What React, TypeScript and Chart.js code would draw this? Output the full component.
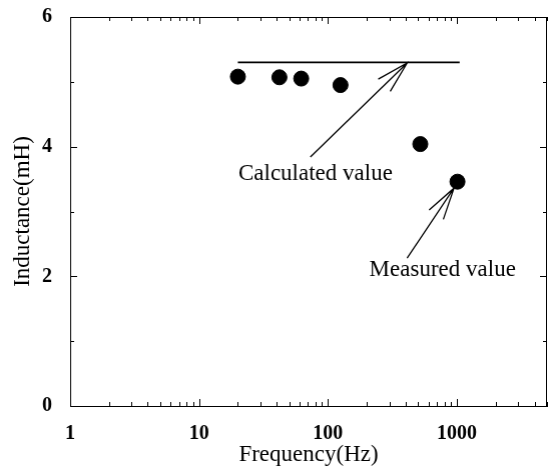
import React, { useEffect, useRef } from "react";
import { Chart, registerables } from "chart.js";

Chart.register(...registerables);

// Measured inductance (mH) vs frequency (Hz)
const measuredFreq = [20, 42, 62, 125, 520, 1010];
const measuredL = [5.08, 5.07, 5.05, 4.95, 4.04, 3.46];

// Calculated value (constant line)
const calcFreq = [20, 1050];
const calcL = [5.3, 5.3];

const xTickLabels = [1, 10, 100, 1000];
const xMin = 1;
const xMax = 5000;
const yMin = 0;
const yMax = 6;
const yStep = 2;

// Annotations: text positions and arrows (tail -> tip) in data units
const annotationTexts = ["Calculated value", "Measured value"];
const annotationX = [80, 774];
const annotationY = [3.58, 2.1];
const arrowTailX = [73, 411];
const arrowTailY = [3.84, 2.28];
const arrowTipX = [411, 949];
const arrowTipY = [5.29, 3.36];

const SERIF = "'Liberation Serif', 'DejaVu Serif', serif";

const decorPlugin = {
  id: "decor",
  afterDraw(chart: any) {
    const ctx = chart.ctx;
    const xs = chart.scales.x;
    const ys = chart.scales.y;
    const { left, right, top, bottom } = chart.chartArea;
    ctx.save();
    ctx.strokeStyle = "#000";
    ctx.lineWidth = 1;
    // frame top/right
    ctx.beginPath();
    ctx.moveTo(left, top + 0.5);
    ctx.lineTo(right, top + 0.5);
    ctx.moveTo(right - 0.5, top);
    ctx.lineTo(right - 0.5, bottom);
    ctx.stroke();
    // x ticks (log) on bottom and top, inward
    ctx.beginPath();
    for (let d = 1; d <= 1000; d *= 10) {
      for (let k = 1; k <= 9; k++) {
        const v = d * k;
        if (v > xMax) break;
        const px = Math.round(xs.getPixelForValue(v)) + 0.5;
        const len = k === 1 ? 7 : 4;
        ctx.moveTo(px, bottom);
        ctx.lineTo(px, bottom - len);
        ctx.moveTo(px, top);
        ctx.lineTo(px, top + len);
      }
    }
    // y ticks on left and right, inward
    for (let v = yMin; v <= yMax; v += 1) {
      const py = Math.round(ys.getPixelForValue(v)) + 0.5;
      const len = v % 2 === 0 ? 7 : 4;
      ctx.moveTo(left, py);
      ctx.lineTo(left + len, py);
      ctx.moveTo(right, py);
      ctx.lineTo(right - len, py);
    }
    ctx.stroke();

    // arrows
    ctx.lineWidth = 1.3;
    for (let i = 0; i < arrowTipX.length; i++) {
      const tx = xs.getPixelForValue(arrowTailX[i]);
      const ty = ys.getPixelForValue(arrowTailY[i]);
      const hx = xs.getPixelForValue(arrowTipX[i]);
      const hy = ys.getPixelForValue(arrowTipY[i]);
      const ang = Math.atan2(ty - hy, tx - hx);
      const L = 33;
      const a = (15 * Math.PI) / 180;
      ctx.beginPath();
      ctx.moveTo(tx, ty);
      ctx.lineTo(hx, hy);
      ctx.moveTo(hx + L * Math.cos(ang + a), hy + L * Math.sin(ang + a));
      ctx.lineTo(hx, hy);
      ctx.lineTo(hx + L * Math.cos(ang - a), hy + L * Math.sin(ang - a));
      ctx.stroke();
    }
    // annotation texts
    ctx.fillStyle = "#000";
    ctx.font = `23px ${SERIF}`;
    ctx.textAlign = "center";
    ctx.textBaseline = "middle";
    for (let i = 0; i < annotationTexts.length; i++) {
      ctx.fillText(
        annotationTexts[i],
        xs.getPixelForValue(annotationX[i]),
        ys.getPixelForValue(annotationY[i])
      );
    }
    ctx.restore();
  },
};

export default function App() {
  const ref = useRef<HTMLCanvasElement>(null);
  useEffect(() => {
    if (!ref.current) return;
    const chart = new Chart(ref.current, {
      type: "scatter",
      data: {
        datasets: [
          {
            label: "Measured value",
            data: measuredFreq.map((f, i) => ({ x: f, y: measuredL[i] })),
            pointRadius: 7.5,
            pointBackgroundColor: "#000",
            pointBorderColor: "#000",
            showLine: false,
          },
          {
            label: "Calculated value",
            data: calcFreq.map((f, i) => ({ x: f, y: calcL[i] })),
            showLine: true,
            borderColor: "#000",
            borderWidth: 1.6,
            pointRadius: 0,
          } as any,
        ],
      },
      options: {
        animation: false,
        responsive: true,
        maintainAspectRatio: false,
        layout: { padding: { top: 17, right: 0, left: 0, bottom: 0 } },
        plugins: { legend: { display: false }, tooltip: { enabled: false } },
        scales: {
          x: {
            type: "logarithmic",
            min: xMin,
            max: xMax,
            grid: { display: false },
            border: { display: true, color: "#000", width: 1 },
            afterFit(scale: any) {
              scale.height = 68;
              scale.paddingLeft = 0;
              scale.paddingRight = 0;
            },
            afterBuildTicks(scale: any) {
              scale.ticks = xTickLabels.map((v) => ({ value: v }));
            },
            ticks: {
              autoSkip: false,
              maxRotation: 0,
              padding: 8,
              color: "#000",
              font: { family: SERIF, size: 20, weight: "bold" },
              callback: (v: any) => String(v),
            },
            title: {
              display: true,
              text: "Frequency(Hz)",
              color: "#000",
              font: { family: SERIF, size: 23 },
              padding: { top: 0, bottom: 5 },
            },
          },
          y: {
            min: yMin,
            max: yMax,
            grid: { display: false },
            border: { display: true, color: "#000", width: 1 },
            afterFit(scale: any) {
              scale.width = 70;
              scale.paddingTop = 0;
              scale.paddingBottom = 0;
            },
            ticks: {
              stepSize: yStep,
              padding: 10,
              color: "#000",
              font: { family: SERIF, size: 20, weight: "bold" },
            },
            title: {
              display: true,
              text: "Inductance(mH)",
              color: "#000",
              font: { family: SERIF, size: 23 },
              padding: { top: 9, bottom: 0 },
            },
          },
        },
      } as any,
      plugins: [decorPlugin],
    });
    return () => chart.destroy();
  }, []);
  return (
    <div
      style={{
        position: "absolute",
        left: 0,
        top: 0,
        width: 550,
        height: 474,
        overflow: "hidden",
      }}
    >
      <div style={{ position: "absolute", left: 0, top: 0, width: 554.5, height: 474 }}>
        <canvas ref={ref} />
      </div>
    </div>
  );
}
